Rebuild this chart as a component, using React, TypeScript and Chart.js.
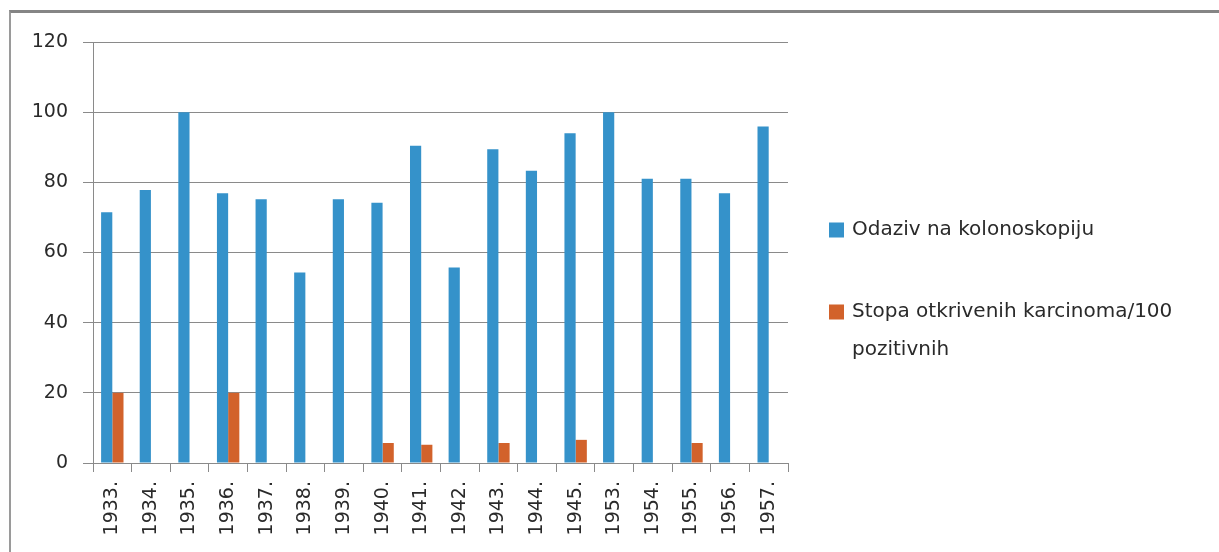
import React, { useEffect, useRef } from "react";
import { Chart, registerables } from "chart.js";

Chart.register(...registerables);

const categories = [
  "1933.", "1934.", "1935.", "1936.", "1937.", "1938.", "1939.", "1940.", "1941.",
  "1942.", "1943.", "1944.", "1945.", "1953.", "1954.", "1955.", "1956.", "1957.",
];
const odazivValues = [71.5, 77.8, 100, 76.9, 75.2, 54.3, 75.2, 74.2, 90.4, 55.7, 89.4, 83.3, 94, 100, 81, 81, 76.9, 95.9];
const stopaValues = [20, null, null, 20, null, null, null, 5.7, 5.2, null, 5.7, null, 6.6, null, null, 5.7, null, null];
const seriesLabels = ["Odaziv na kolonoskopiju", ["Stopa otkrivenih karcinoma/100", "pozitivnih"]];
const seriesColors = ["#3592CA", "#D2622B"];
const yTicks = [0, 20, 40, 60, 80, 100, 120];

const FONT = "DejaVu Sans";

const legendPlugin = {
  id: "sideLegend",
  afterDraw(chart: any) {
    const ctx = chart.ctx;
    ctx.save();
    ctx.font = `20px '${FONT}'`;
    ctx.textBaseline = "middle";
    ctx.textAlign = "left";
    const rows = [230, 312];
    chart.data.datasets.forEach((ds: any, i: number) => {
      const y = rows[i];
      ctx.fillStyle = ds.backgroundColor;
      ctx.fillRect(829, y - 7.5, 15, 15);
      ctx.fillStyle = "#2a2a2a";
      const lines = Array.isArray(seriesLabels[i]) ? (seriesLabels[i] as string[]) : [seriesLabels[i] as string];
      lines.forEach((t, j) => ctx.fillText(t, 852, y + j * 38));
    });
    ctx.restore();
  },
};

export default function App() {
  const ref = useRef<HTMLCanvasElement | null>(null);
  useEffect(() => {
    if (!ref.current) return;
    const chart = new Chart(ref.current, {
      type: "bar",
      data: {
        labels: categories,
        datasets: [
          {
            label: "Odaziv na kolonoskopiju",
            data: odazivValues,
            backgroundColor: seriesColors[0],
          },
          {
            label: "Stopa otkrivenih karcinoma/100 pozitivnih",
            data: stopaValues as any,
            backgroundColor: seriesColors[1],
          },
        ],
      },
      options: {
        animation: false,
        responsive: false,
        maintainAspectRatio: false,
        layout: { padding: { left: 0, top: 42, right: 431, bottom: 0 } },
        datasets: { bar: { categoryPercentage: 0.58, barPercentage: 1 } },
        plugins: { legend: { display: false }, tooltip: { enabled: false } },
        scales: {
          x: {
            offset: true,
            grid: {
              display: true,
              offset: true,
              drawOnChartArea: false,
              drawTicks: true,
              tickLength: 9,
              color: "#8a8a8a",
            },
            border: { display: true, color: "#8a8a8a" },
            ticks: {
              minRotation: 90,
              maxRotation: 90,
              padding: 9,
              color: "#2a2a2a",
              font: { family: FONT, size: 19 },
              autoSkip: false,
            },
            afterFit(scale: any) {
              scale.height = 89;
            },
          },
          y: {
            min: 0,
            max: 120,
            afterBuildTicks(scale: any) {
              scale.ticks = yTicks.map((v) => ({ value: v }));
            },
            grid: {
              color: "#8a8a8a",
              lineWidth: 1,
              drawTicks: true,
              tickLength: 10,
            },
            border: { display: true, color: "#8a8a8a" },
            ticks: {
              padding: 15,
              color: "#2a2a2a",
              font: { family: FONT, size: 19 },
            },
            afterFit(scale: any) {
              scale.width = 93;
            },
          },
        },
      },
      plugins: [legendPlugin],
    });
    return () => chart.destroy();
  }, []);

  return (
    <div style={{ position: "absolute", left: 0, top: 0, width: 1219, height: 552, overflow: "hidden", background: "#fff" }}>
      <div
        style={{
          position: "absolute",
          left: 9,
          top: 10,
          width: 1240,
          height: 600,
          borderTop: "3px solid #858585",
          borderLeft: "2px solid #9a9a9a",
        }}
      />
      <canvas ref={ref} width={1219} height={552} style={{ position: "absolute", left: 0, top: 0, display: "block" }} />
    </div>
  );
}
